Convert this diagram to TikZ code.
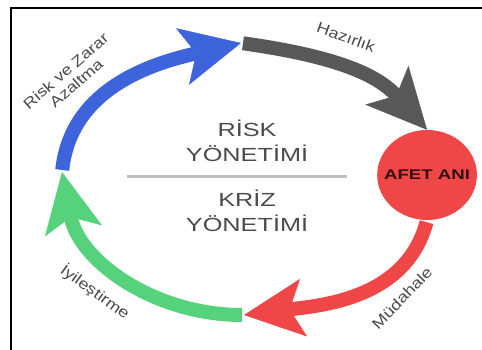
\documentclass[tikz,border=0pt]{standalone}
\usepackage{fontspec}
\setmainfont{Liberation Sans}
\usepackage{tikz}
\usepackage{graphicx}
\usepackage{xcolor}
\usetikzlibrary{shapes.geometric, arrows.meta, positioning}
\definecolor{blueC}{HTML}{3E64DC}
\definecolor{grayC}{HTML}{585858}
\definecolor{redC}{HTML}{EF4747}
\definecolor{greenC}{HTML}{57D27C}
\definecolor{textC}{HTML}{4A4A4A}
\newcommand{\wide}[1]{\scalebox{1.2}[1]{#1}}
\tikzstyle{cycarrow} = [line width=14pt, shorten <=2pt, -{Stealth[length=60pt, width=58pt, inset=14pt, line width=0.5pt]}]
\tikzstyle{event} = [ellipse, minimum width=75pt, minimum height=90pt, inner xsep=-12pt, inner ysep=0pt, fill=redC, text=black!80!redC, font=\fontsize{14}{14}\selectfont\bfseries]
\tikzstyle{mgmt} = [align=center, inner sep=0pt, text=textC, font=\fontsize{19}{25}\selectfont]
\tikzstyle{phase} = [align=center, inner sep=0pt, text=textC, font=\fontsize{15}{16}\selectfont]

\begin{document}
\begin{tikzpicture}[x=1pt, y=1pt]
    \useasboundingbox (0,0) rectangle (482,350);
    \draw[line width=1.2pt] (11,0) |- (482,342);

    \coordinate (lft) at (62,178);
    \coordinate (tp) at (241,307);
    \coordinate (btm) at (244,35);
    \coordinate (afetpos) at (427,175);
    \coordinate (sepL) at (127,173);
    \coordinate (sepR) at (347,173);
    \coordinate (mid) at (247,173);

    % stretched text, as in the picture
    \begin{scope}[xscale=1.33, every node/.append style={transform shape}]
    \node (afet) [event] at (afetpos) {AFET ANI};
    \node (risk) [mgmt, above=15pt of mid] {RİSK\\YÖNETİMİ};
    \node (kriz) [mgmt, below=13pt of mid] {KRİZ\\YÖNETİMİ};
    \end{scope}

    \node (haz) [phase, rotate=-20] at (346,313) {\wide{Hazırlık}};
    \node (azalt) [phase, rotate=41] at (71,273) {\wide{Risk ve Zarar}\\\wide{Azaltma}};
    \node (mud) [phase, rotate=46] at (402,52) {\wide{Müdahale}};
    \node (iyi) [phase, rotate=-36] at (95,58) {\wide{İyileştirme}};

    \draw [line width=3pt, black!25] (sepL)--(sepR);

    \draw[cycarrow, blueC] (lft) to[out=84, in=193] (tp);
    \draw[cycarrow, grayC] (tp) to[out=-8, in=132] (afet.north);
    \draw[cycarrow, redC] (afet.south) to[out=-105, in=7] (btm);
    \draw[cycarrow, greenC] (btm) to[out=180, in=-79] (lft);

\end{tikzpicture}
\end{document}
